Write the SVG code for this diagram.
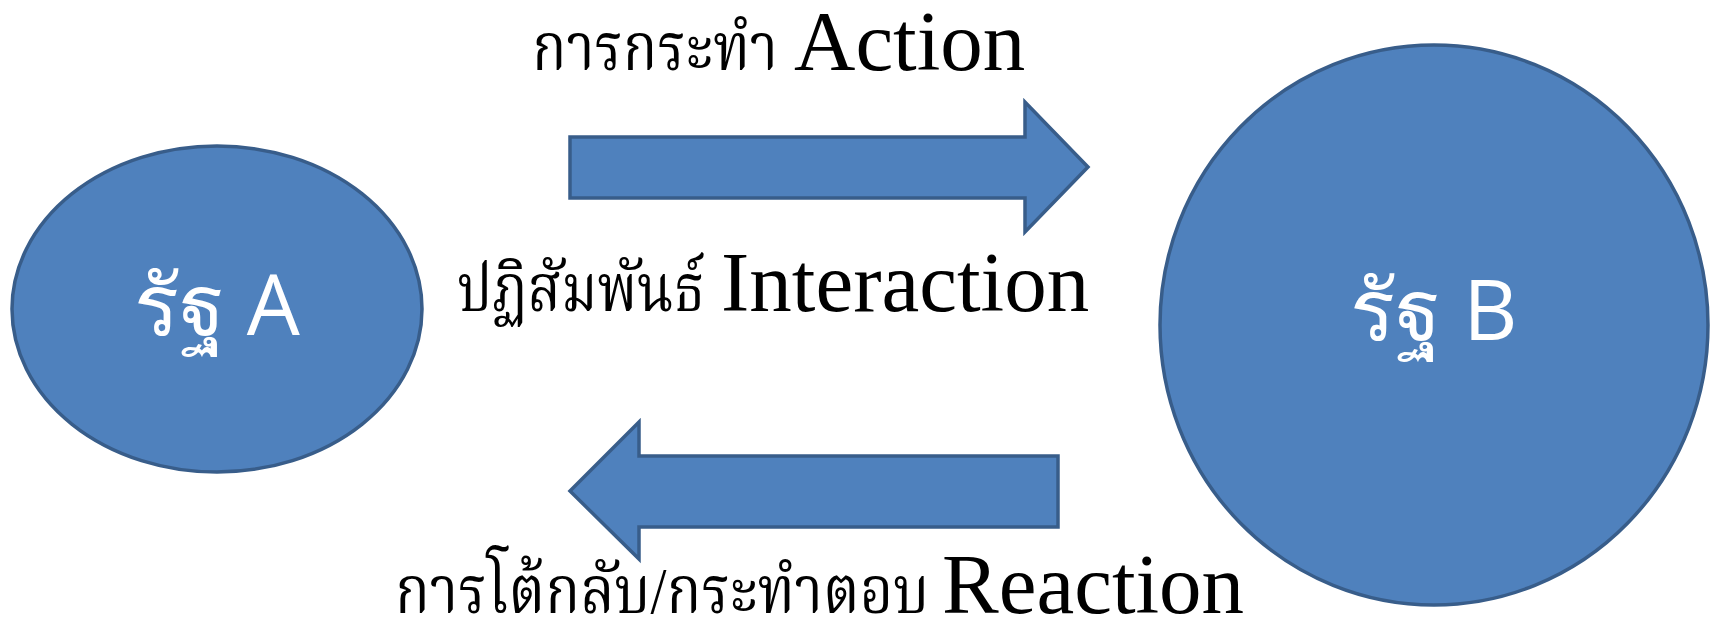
<svg xmlns="http://www.w3.org/2000/svg" width="1713" height="620" viewBox="0 0 1713 620">
<style>
.shape{fill:#4f81bd;stroke:#385d8a;stroke-width:3.5;stroke-linejoin:miter}
.state{font-family:"Open Sans","Noto Sans",sans-serif;font-size:84px;fill:#ffffff;text-anchor:middle}
.th{font-family:"Liberation Serif","Noto Serif Thai","Noto Sans Thai",serif;font-size:66px;fill:#000}
.en{font-family:"Liberation Serif",serif;font-size:85px;fill:#000}
</style>
<rect width="1713" height="620" fill="#ffffff"/>
<g id="stateA">
<ellipse class="shape" cx="217" cy="309" rx="205" ry="163"/>
<text class="state" x="217" y="335">รัฐ A</text>
</g>
<g id="stateB">
<ellipse class="shape" cx="1434" cy="325" rx="274" ry="280"/>
<text class="state" x="1434" y="340">รัฐ B</text>
</g>
<g id="connectors">
<polygon id="actionArrow" class="shape" points="570,137 1025,137 1025,102 1088,167 1025,232 1025,198 570,198"/>
<polygon id="reactionArrow" class="shape" points="1058,456 639,456 639,422 570,491 639,559 639,527 1058,527"/>
</g>
<g id="labels">
<text y="70"><tspan class="th" x="532" textLength="246" lengthAdjust="spacingAndGlyphs">การกระทำ</tspan><tspan class="en" x="794">Action</tspan></text>
<text y="311"><tspan class="th" x="457" textLength="248" lengthAdjust="spacingAndGlyphs">ปฏิสัมพันธ์</tspan><tspan class="en" x="721">Interaction</tspan></text>
<text y="613"><tspan class="th" x="395" textLength="534" lengthAdjust="spacingAndGlyphs">การโต้กลับ/กระทำตอบ</tspan><tspan class="en" x="942">Reaction</tspan></text>
</g>
</svg>
